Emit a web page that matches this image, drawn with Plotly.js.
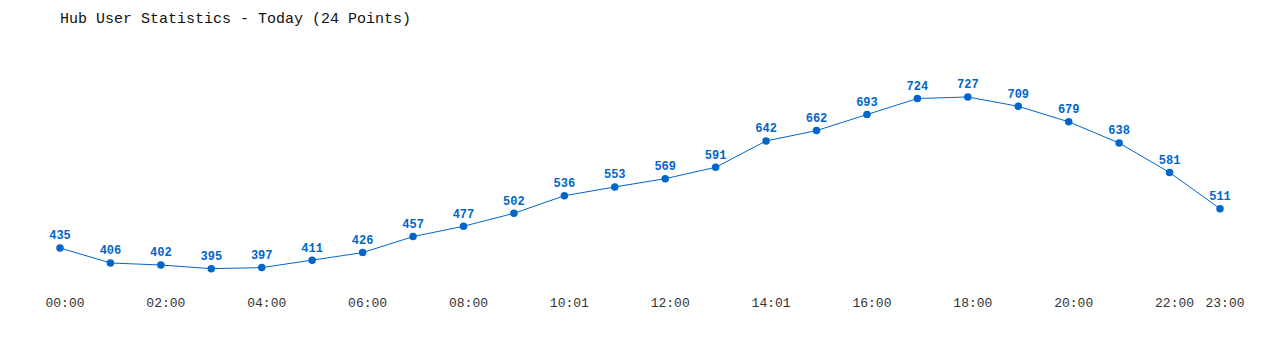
<!DOCTYPE html>
<html>
<head>
<meta charset="utf-8">
<script src="https://cdn.plot.ly/plotly-3.0.1.min.js"></script>
<style>html,body{margin:0;padding:0;background:#fff;}#chart{width:1280px;height:350px;}</style>
</head>
<body>
<div id="chart"></div>
<script>
const times = ["00:00","01:00","02:00","03:00","04:00","05:00","06:00","07:00","08:00","09:00","10:01","11:00","12:00","13:00","14:01","15:00","16:00","17:00","18:00","19:00","20:00","21:00","22:00","23:00"];
const users = [435,406,402,395,397,411,426,457,477,502,536,553,569,591,642,662,693,724,727,709,679,638,581,511];
const tickLabels = ["00:00","02:00","04:00","06:00","08:00","10:01","12:00","14:01","16:00","18:00","20:00","22:00","23:00"];

const color = "#0066cc";
const trace = {
  x: times,
  y: users,
  type: "scatter",
  mode: "lines+markers+text",
  line: {color: color, width: 1},
  marker: {color: color, size: 7.5},
  text: users.map(String),
  textposition: "top center",
  textfont: {family: "Liberation Mono, DejaVu Sans Mono, monospace", size: 12, color: color, weight: "bold"},
  cliponaxis: false,
  hoverinfo: "x+y"
};

const layout = {
  width: 1280, height: 350,
  margin: {l: 60, r: 60, t: 40, b: 60},
  paper_bgcolor: "#fff", plot_bgcolor: "#fff",
  title: {text: "Hub User Statistics - Today (24 Points)", x: 0, xref: "paper", xanchor: "left", y: 0.95, yref: "container", yanchor: "middle",
          font: {family: "Liberation Mono, DejaVu Sans Mono, monospace", size: 15, color: "#111"}},
  showlegend: false,
  xaxis: {
    type: "category", range: [0, 23], showgrid: false, zeroline: false, showline: false,
    tickvals: tickLabels, ticktext: tickLabels, ticks: "",
    ticklabelshift: 5, ticklabelstandoff: 3,
    tickfont: {family: "Liberation Mono, DejaVu Sans Mono, monospace", size: 13, color: "#333"}
  },
  yaxis: {range: [353.7, 837.2], visible: false, showgrid: false, zeroline: false}
};

Plotly.newPlot("chart", [trace], layout, {displayModeBar: false, staticPlot: true});
</script>
</body>
</html>
